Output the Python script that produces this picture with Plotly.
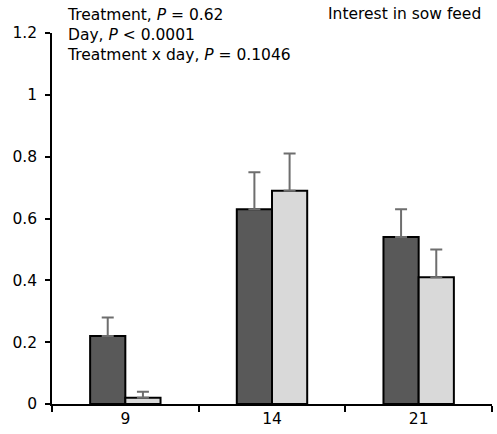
import plotly.graph_objects as go

days = ["9", "14", "21"]
treat_a = [0.22, 0.63, 0.54]
treat_a_se = [0.06, 0.12, 0.09]
treat_b = [0.02, 0.69, 0.41]
treat_b_se = [0.02, 0.12, 0.09]
y_ticks = [0, 0.2, 0.4, 0.6, 0.8, 1, 1.2]
y_tick_labels = ["0", "0.2", "0.4", "0.6", "0.8", "1", "1.2"]
stat_lines = [
    "Treatment, <i>P</i> = 0.62",
    "Day, <i>P</i> < 0.0001",
    "Treatment x day, <i>P</i> = 0.1046",
]
panel_title = "Interest in sow feed"

FONT = "DejaVu Sans, Arial, sans-serif"
FS = 15.5

fig = go.Figure()
fig.add_trace(go.Bar(
    x=days, y=treat_a,
    marker=dict(color="#595959", line=dict(color="black", width=2)),
    error_y=dict(type="data", array=treat_a_se, arrayminus=[0]*3, symmetric=False,
                 color="#6e6e6e", thickness=2, width=6),
))
fig.add_trace(go.Bar(
    x=days, y=treat_b,
    marker=dict(color="#d9d9d9", line=dict(color="black", width=2)),
    error_y=dict(type="data", array=treat_b_se, arrayminus=[0]*3, symmetric=False,
                 color="#6e6e6e", thickness=2, width=6),
))

fig.update_layout(
    width=497, height=434,
    margin=dict(l=52, r=5, t=33, b=30),
    paper_bgcolor="white", plot_bgcolor="white",
    barmode="group", bargap=0.52, bargroupgap=0,
    showlegend=False,
    font=dict(family=FONT, size=FS, color="black"),
    xaxis=dict(type="category", tickson="boundaries", ticks="outside", ticklen=6,
               tickwidth=1.5, tickcolor="black", showline=True, linecolor="black",
               linewidth=1.5, showgrid=False, zeroline=False,
               tickfont=dict(family=FONT, size=FS)),
    yaxis=dict(range=[0, 1.2], tickvals=y_ticks, ticktext=y_tick_labels,
               ticks="outside", ticklen=5, tickwidth=1.5, tickcolor="black",
               showline=True, linecolor="black", linewidth=1.5, showgrid=False,
               zeroline=False, ticklabelstandoff=5,
               tickfont=dict(family=FONT, size=FS)),
)

fig.add_annotation(xref="paper", yref="paper", x=0.03, y=0.994,
                   xanchor="left", yanchor="middle", align="left", showarrow=False,
                   text="<br>".join(stat_lines), font=dict(family=FONT, size=FS))
fig.add_annotation(xref="paper", yref="paper", x=0.98, y=1.05,
                   xanchor="right", yanchor="middle", showarrow=False,
                   text=panel_title, font=dict(family=FONT, size=FS))

fig.write_html("out.html")
